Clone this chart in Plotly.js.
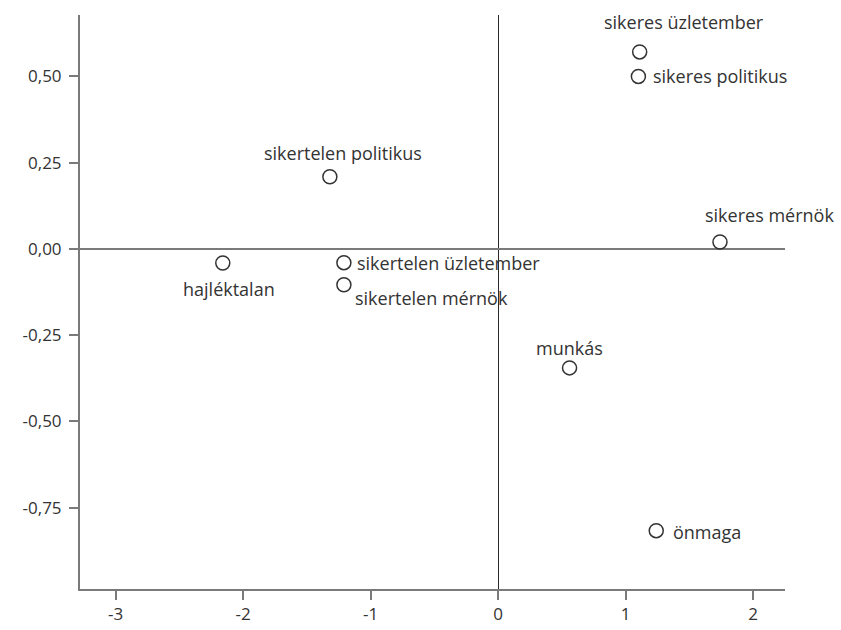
<!DOCTYPE html>
<html>
<head>
<meta charset="utf-8">
<script src="https://cdn.plot.ly/plotly-3.0.1.min.js"></script>
<style>html,body{margin:0;padding:0;background:#fff;}#chart{width:841px;height:630px;}</style>
</head>
<body>
<div id="chart"></div>
<script>
// Data
var labels = ["sikeres üzletember", "sikeres politikus", "sikertelen politikus", "sikeres mérnök",
              "hajléktalan", "sikertelen üzletember", "sikertelen mérnök", "munkás", "önmaga"];
var xValues = [1.11, 1.10, -1.32, 1.74, -2.16, -1.21, -1.21, 0.56, 1.24];
var yValues = [0.571, 0.50, 0.209, 0.02, -0.041, -0.04, -0.104, -0.345, -0.817];
var xTicks = [-3, -2, -1, 0, 1, 2];
var yTicks = [-0.75, -0.5, -0.25, 0, 0.25, 0.5];

// Label placement (style only): [anchor, xshift, yshift]
var labelStyle = {
  "sikeres üzletember": ["center", 44, 30],
  "sikeres politikus": ["left", 13, 0],
  "sikertelen politikus": ["center", 13, 24],
  "sikeres mérnök": ["center", 50, 27],
  "hajléktalan": ["center", 6, -26],
  "sikertelen üzletember": ["left", 11, 0],
  "sikertelen mérnök": ["left", 9, -13],
  "munkás": ["center", 0, 20],
  "önmaga": ["left", 15, -1]
};

var font = "Open Sans, Noto Sans, sans-serif";
var textColor = "#333333";

var annotations = labels.map(function (lab, i) {
  var s = labelStyle[lab];
  return {
    x: xValues[i], y: yValues[i], xref: "x", yref: "y",
    text: lab, showarrow: false,
    xanchor: s[0], yanchor: "middle",
    xshift: s[1], yshift: s[2],
    font: {family: font, size: 18, color: textColor}
  };
});

var trace = {
  x: xValues, y: yValues, text: labels,
  type: "scatter", mode: "markers",
  marker: {symbol: "circle-open", size: 14, color: "#333333", line: {width: 1.5, color: "#333333"}},
  hoverinfo: "text"
};

var layout = {
  width: 841, height: 630,
  paper_bgcolor: "#fff", plot_bgcolor: "#fff",
  margin: {l: 80, r: 56, t: 15, b: 41},
  showlegend: false,
  font: {family: font, size: 17, color: textColor},
  xaxis: {
    range: [-3.28, 2.25],
    tickmode: "array", tickvals: xTicks, ticktext: xTicks.map(function (v) { return v < 0 ? "-" + Math.abs(v) : String(v); }),
    showgrid: false,
    showline: true, linecolor: "#7a7a7a", linewidth: 2,
    ticks: "outside", ticklen: 9, tickwidth: 2, tickcolor: "#7a7a7a",
    zeroline: true, zerolinecolor: "#2a2a2a", zerolinewidth: 1.2,
    tickfont: {family: font, size: 17, color: textColor},
    fixedrange: true
  },
  yaxis: {
    range: [-0.986, 0.678],
    tickmode: "array", tickvals: yTicks,
    ticktext: yTicks.map(function (v) { return (v < 0 ? "-" : "") + Math.abs(v).toFixed(2).replace(".", ","); }),
    showgrid: false,
    showline: true, linecolor: "#7a7a7a", linewidth: 2,
    ticks: "outside", ticklen: 9, tickwidth: 2, tickcolor: "#7a7a7a",
    ticklabelstandoff: 4,
    zeroline: true, zerolinecolor: "#7a7a7a", zerolinewidth: 2,
    tickfont: {family: font, size: 17, color: textColor},
    fixedrange: true
  },
  annotations: annotations
};

Plotly.newPlot("chart", [trace], layout, {displayModeBar: false, staticPlot: true});
</script>
</body>
</html>
